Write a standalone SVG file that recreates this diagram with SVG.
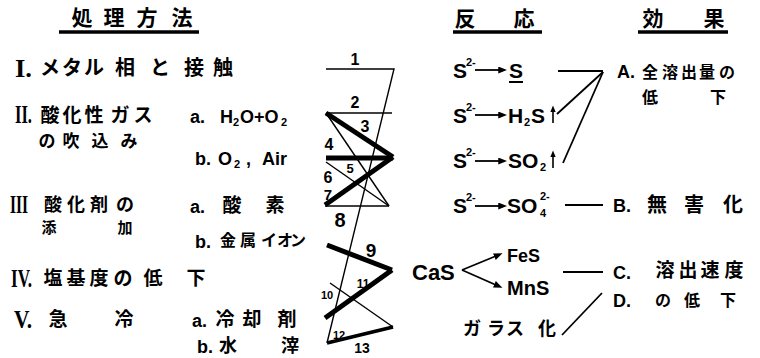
<svg xmlns="http://www.w3.org/2000/svg" width="760" height="358" viewBox="0 0 760 358">
<style>
.jp{font-family:"Noto Sans CJK JP","Noto Sans CJK SC",sans-serif;font-weight:700;fill:#000;text-anchor:middle}
.lt{font-family:"Liberation Sans",Arial,sans-serif;font-weight:700;fill:#000}
.rn{font-family:"Liberation Serif","Times New Roman",serif;font-weight:700;fill:#000}
.num{font-family:"Liberation Sans",Arial,sans-serif;font-weight:700;fill:#000;text-anchor:middle}
.ul{stroke:#000;stroke-width:3.5;fill:none}
.thin{stroke:#000;stroke-width:1.4;fill:none}
.thick{stroke:#000;stroke-width:5;fill:none}
.ln{stroke:#000;stroke-width:1.8;fill:none}
.ar{stroke:#000;stroke-width:1.8;fill:none;marker-end:url(#ah)}
.up{stroke:#000;stroke-width:1.6;fill:none;marker-end:url(#ahs)}
</style>
<defs>
<marker id="ah" viewBox="0 0 10 8" refX="2" refY="4" markerWidth="9" markerHeight="7" markerUnits="userSpaceOnUse" orient="auto"><path d="M0,0 L10,4 L0,8 z" fill="#000"/></marker>
<marker id="ahs" viewBox="0 0 10 8" refX="2" refY="4" markerWidth="7" markerHeight="6" markerUnits="userSpaceOnUse" orient="auto"><path d="M0,0 L10,4 L0,8 z" fill="#000"/></marker>
</defs>
<rect width="760" height="358" fill="#fff"/>

<g id="headers">
<text class="jp" font-size="21" x="82 114 147 182" y="25">処理方法</text>
<line class="ul" x1="59" y1="32" x2="199" y2="32"/>
<text class="jp" font-size="21" x="465 524" y="26">反応</text>
<line class="ul" x1="453" y1="32" x2="542" y2="32"/>
<text class="jp" font-size="21" x="653 714" y="26">効果</text>
<line class="ul" x1="638" y1="32" x2="728" y2="32"/>
</g>

<g id="method-1">
<text class="rn" font-size="25" x="15" y="77" textLength="17" lengthAdjust="spacingAndGlyphs">I.</text>
<text class="jp" font-size="20" x="50 72 94 125 160 194 223" y="75">メタル相と接触</text>
</g>
<g id="method-2">
<text class="rn" font-size="25" x="15" y="123" textLength="17" lengthAdjust="spacingAndGlyphs">II.</text>
<text class="jp" font-size="19" x="50 72 94 120 143" y="122">酸化性ガス</text>
<text class="jp" font-size="17" x="47 71 100 129" y="147">の吹込み</text>
<text class="lt" font-size="18" y="123"><tspan x="190">a.</tspan><tspan x="220">H</tspan><tspan x="233" font-size="11" dy="3">2</tspan><tspan x="240" dy="-3">O+O</tspan><tspan x="281" font-size="11" dy="3">2</tspan></text>
<text class="lt" font-size="18" y="165"><tspan x="195">b.</tspan><tspan x="218">O</tspan><tspan x="234" font-size="11" dy="3">2</tspan><tspan x="246" dy="-3">,</tspan><tspan x="262">Air</tspan></text>
</g>
<g id="method-3">
<text class="rn" font-size="25" x="10" y="213" textLength="18" lengthAdjust="spacingAndGlyphs">III</text>
<text class="jp" font-size="18" x="53 76 99 125" y="211">酸化剤の</text>
<text class="jp" font-size="15" x="49 125" y="233">添加</text>
<text class="lt" font-size="18" x="190" y="213">a.</text>
<text class="jp" font-size="19" x="232 275" y="212">酸素</text>
<text class="lt" font-size="18" x="195" y="248">b.</text>
<text class="jp" font-size="16" x="228 248 269 285 298" y="246">金属イオン</text>
</g>
<g id="method-4">
<text class="rn" font-size="25" x="11" y="287" textLength="21" lengthAdjust="spacingAndGlyphs">IV.</text>
<text class="jp" font-size="19" x="53 76 99 123 153 196" y="285">塩基度の低下</text>
</g>
<g id="method-5">
<text class="rn" font-size="25" x="14" y="328" textLength="18" lengthAdjust="spacingAndGlyphs">V.</text>
<text class="jp" font-size="19" x="58 124" y="326">急冷</text>
<text class="lt" font-size="18" x="192" y="327">a.</text>
<text class="jp" font-size="19" x="225 252 287" y="326">冷却剤</text>
<text class="lt" font-size="18" x="197" y="353">b.</text>
<text class="jp" font-size="18" x="228 290" y="352">水滓</text>
</g>

<g id="reaction-S">
<text class="lt" font-size="21" x="453" y="78">S</text>
<text class="lt" font-size="11" x="466" y="66">2-</text>
<path class="ar" d="M475,70 H500"/>
<text class="lt" font-size="21" x="509" y="78">S</text>
<line x1="509" y1="82" x2="523" y2="82" stroke="#000" stroke-width="2"/>
</g>
<g id="reaction-H2S">
<text class="lt" font-size="21" x="453" y="123">S</text>
<text class="lt" font-size="11" x="466" y="111">2-</text>
<path class="ar" d="M475,115 H500"/>
<text class="lt" font-size="21" y="123"><tspan x="508">H</tspan><tspan x="524" font-size="11" dy="3">2</tspan><tspan x="531" dy="-3">S</tspan></text>
<path class="up" d="M553,123 V111"/>
</g>
<g id="reaction-SO2">
<text class="lt" font-size="21" x="453" y="168">S</text>
<text class="lt" font-size="11" x="466" y="156">2-</text>
<path class="ar" d="M475,161 H500"/>
<text class="lt" font-size="21" y="168"><tspan x="508">SO</tspan><tspan x="540" font-size="11" dy="3">2</tspan></text>
<path class="up" d="M553,168 V156"/>
</g>
<g id="reaction-SO4">
<text class="lt" font-size="21" x="453" y="213">S</text>
<text class="lt" font-size="11" x="466" y="201">2-</text>
<path class="ar" d="M475,206 H500"/>
<text class="lt" font-size="21" x="507" y="213">SO</text>
<text class="lt" font-size="11" x="540" y="217">4</text>
<text class="lt" font-size="11" x="540" y="200">2-</text>
</g>
<g id="reaction-CaS">
<text class="lt" font-size="22" x="412" y="280">CaS</text>
<path class="ar" d="M462,270 L496,256"/>
<path class="ar" d="M462,270 L496,285"/>
<text class="lt" font-size="18" x="507" y="262">FeS</text>
<text class="lt" font-size="20" x="507" y="295">MnS</text>
</g>
<g id="reaction-glass">
<text class="jp" font-size="18" x="472 496 515 547" y="335">ガラス化</text>
</g>

<g id="effect-A">
<text class="lt" font-size="18" x="617" y="78">A.</text>
<text class="jp" font-size="16" x="650 670 689 707 727" y="78">全溶出量の</text>
<text class="jp" font-size="16" x="650 718" y="103">低下</text>
</g>
<g id="effect-B">
<text class="lt" font-size="18" x="613" y="212">B.</text>
<text class="jp" font-size="20" x="657 694 733" y="212">無害化</text>
</g>
<g id="effect-C">
<text class="lt" font-size="18" x="613" y="279">C.</text>
<text class="jp" font-size="19" x="665 688 710 734" y="277">溶出速度</text>
</g>
<g id="effect-D">
<text class="lt" font-size="18" x="613" y="307">D.</text>
<text class="jp" font-size="16" x="663 692 728" y="306">の低下</text>
</g>

<g id="connectors">
<path class="thin" d="M326,69 H394 L327,343"/>
<path class="thin" d="M326,113 H392"/>
<path class="thick" d="M326,113 L393,157"/>
<path class="thin" d="M326,113 L389,206"/>
<path class="thick" d="M326,158 H393"/>
<path class="thin" d="M326,162 L389,206"/>
<path class="thick" d="M393,157 L325,205"/>
<path class="thin" d="M325,206 H389"/>
<path class="thick" d="M327,245 L392,270"/>
<path class="thin" d="M330,283 L393,327"/>
<path class="thick" d="M392,270 L325,318"/>
<path class="thick" style="stroke-width:3.8" d="M393,327 L327,343"/>
<path class="ln" d="M558,71 H603"/>
<path class="ln" d="M557,114 L603,72"/>
<path class="ln" d="M563,163 L603,72"/>
<path class="ln" d="M565,205 H603"/>
<path class="ln" d="M563,272 H603"/>
<path class="ln" d="M562,335 L602,293"/>
</g>

<g id="path-labels">
<text class="num" font-size="16" x="355" y="65">1</text>
<text class="num" font-size="16" x="355" y="108">2</text>
<text class="num" font-size="16" x="365" y="132">3</text>
<text class="num" font-size="16" x="329" y="150">4</text>
<text class="num" font-size="13" x="350" y="173">5</text>
<text class="num" font-size="16" x="328" y="183">6</text>
<text class="num" font-size="15" x="328" y="200">7</text>
<text class="num" font-size="20" x="340" y="227">8</text>
<text class="num" font-size="19" x="371" y="257">9</text>
<text class="num" font-size="11" x="327" y="299">10</text>
<text class="num" font-size="12" x="363" y="288">11</text>
<text class="num" font-size="11" x="339" y="339">12</text>
<text class="num" font-size="14" x="362" y="353">13</text>
</g>
</svg>
